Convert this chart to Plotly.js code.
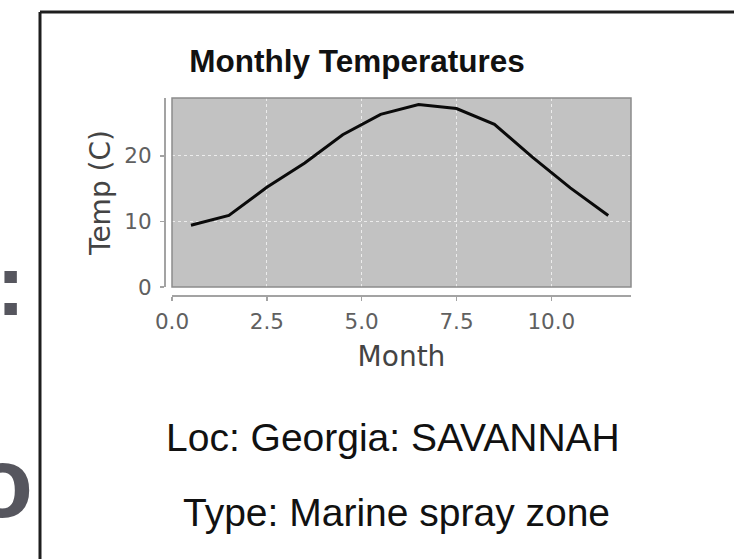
<!DOCTYPE html>
<html>
<head>
<meta charset="utf-8">
<script src="https://cdn.plot.ly/plotly-3.0.1.min.js"></script>
<style>
html,body{margin:0;padding:0;background:#fff;}
#chart{width:734px;height:559px;}
</style>
</head>
<body>
<div id="chart"></div>
<script>
// Data
const months = [0.5, 1.5, 2.5, 3.5, 4.5, 5.5, 6.5, 7.5, 8.5, 9.5, 10.5, 11.5];
const temps = [9.4, 10.9, 15.2, 18.9, 23.2, 26.3, 27.8, 27.2, 24.8, 19.8, 15.1, 10.9];
const xTickVals = [0, 2.5, 5, 7.5, 10];
const xTickText = ['0.0', '2.5', '5.0', '7.5', '10.0'];
const yTickVals = [0, 10, 20];
const yTickText = ['0', '10', '20'];
const chartTitle = 'Monthly Temperatures';
const xTitle = 'Month';
const yTitle = 'Temp (C)';
const locText = 'Loc: Georgia: SAVANNAH';
const typeText = 'Type: Marine spray zone';

const W = 734, H = 559;
const ML = 164, MR = 103, MT = 98, MB = 264;
const PW = W - ML - MR, PH = H - MT - MB;
const px = v => (v - ML) / PW;          // pixel x -> paper x
const py = v => (H - MB - v) / PH;      // pixel y -> paper y

const axisGray = '#a3a3a3';
const tickFont = {family: 'DejaVu Sans', size: 21.5, color: '#606060'};
const titleFont = {family: 'DejaVu Sans', size: 28, color: '#444444'};

const trace = {
  x: months, y: temps, type: 'scatter', mode: 'lines',
  line: {color: '#0a0a0a', width: 3},
  hoverinfo: 'skip', showlegend: false
};

const layout = {
  width: W, height: H,
  margin: {l: ML, r: MR, t: MT, b: MB, pad: 0},
  paper_bgcolor: '#ffffff',
  plot_bgcolor: '#c2c2c2',
  showlegend: false,
  title: {
    text: chartTitle,
    font: {family: 'Liberation Sans, Arial', size: 31.5, weight: 'bold', color: '#111'},
    xref: 'container', yref: 'container',
    x: 357 / W, xanchor: 'center',
    y: 1 - 61 / H, yanchor: 'middle'
  },
  xaxis: {
    domain: [px(172), 1],
    anchor: 'free', position: 0,
    range: [0, 12.1],
    tickmode: 'array', tickvals: xTickVals, ticktext: xTickText,
    ticks: 'outside', ticklen: 4, tickwidth: 1.5, tickcolor: axisGray,
    showline: true, linecolor: axisGray, linewidth: 1.5,
    showgrid: true, gridcolor: '#ececec', gridwidth: 1, griddash: '3px,3px',
    zeroline: false,
    tickfont: tickFont,
    ticklabelstandoff: 3,
    title: {text: xTitle, font: titleFont, standoff: 13}
  },
  yaxis: {
    domain: [py(287), 1],
    anchor: 'free', position: 0,
    range: [0, 28.8],
    tickmode: 'array', tickvals: yTickVals, ticktext: yTickText,
    ticks: 'outside', ticklen: 4, tickwidth: 1.5, tickcolor: axisGray,
    showline: true, linecolor: axisGray, linewidth: 1.5,
    showgrid: true, gridcolor: '#ececec', gridwidth: 1, griddash: '3px,3px',
    zeroline: false,
    tickfont: tickFont,
    ticklabelstandoff: 4,
    title: {text: yTitle, font: titleFont, standoff: 4}
  },
  shapes: [
    // panel border
    {type: 'rect', xref: 'x domain', yref: 'y domain', x0: 0, x1: 1, y0: 0, y1: 1,
     line: {color: '#8c8c8c', width: 1.5}, fillcolor: 'rgba(0,0,0,0)', layer: 'above'},
    // outer frame (top and left edges)
    {type: 'line', xref: 'paper', yref: 'paper', x0: px(40), x1: px(740), y0: py(12), y1: py(12),
     line: {color: '#1e1e1e', width: 3}},
    {type: 'line', xref: 'paper', yref: 'paper', x0: px(40), x1: px(40), y0: py(12), y1: py(565),
     line: {color: '#1e1e1e', width: 3}}
  ],
  annotations: [
    {text: locText, xref: 'paper', yref: 'paper', x: px(393), y: py(438),
     xanchor: 'center', yanchor: 'middle', showarrow: false,
     font: {family: 'Liberation Sans, Arial', size: 39, color: '#111'}},
    {text: typeText, xref: 'paper', yref: 'paper', x: px(396), y: py(512),
     xanchor: 'center', yanchor: 'middle', showarrow: false,
     font: {family: 'Liberation Sans, Arial', size: 39, color: '#111'}},
    {text: ':', xref: 'paper', yref: 'paper', x: px(27), y: py(284),
     xanchor: 'right', yanchor: 'middle', showarrow: false,
     font: {family: 'Liberation Sans, Arial', size: 88, weight: 'bold', color: '#56565e'}},
    {text: 'o', xref: 'paper', yref: 'paper', x: px(2), y: py(482),
     xanchor: 'center', yanchor: 'middle', showarrow: false,
     font: {family: 'Liberation Sans, Arial', size: 100, weight: 'bold', color: '#56565e'}}
  ]
};

Plotly.newPlot('chart', [trace], layout, {staticPlot: true, displayModeBar: false});
</script>
</body>
</html>
